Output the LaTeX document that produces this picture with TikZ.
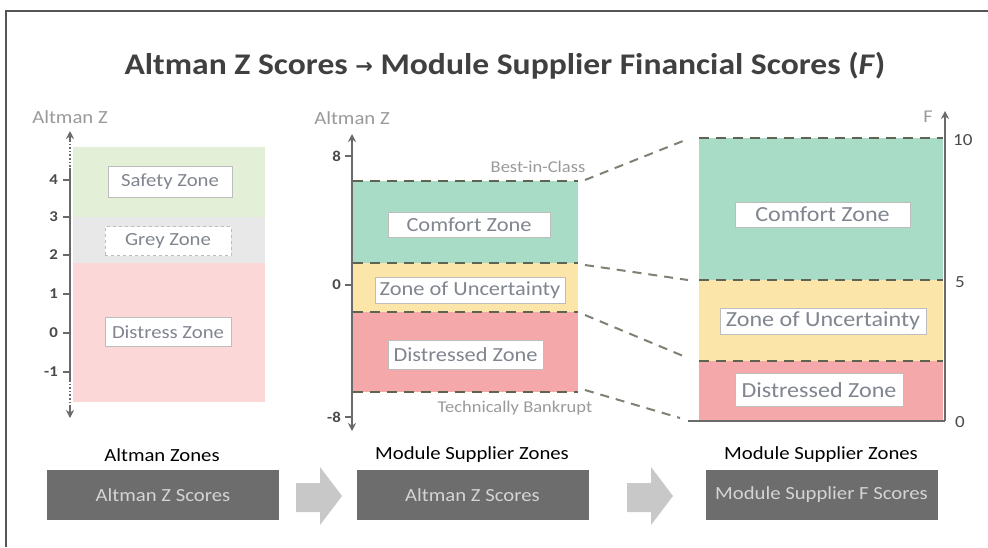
\documentclass[tikz,border=0pt]{standalone}
\usepackage{fontspec}
\setmainfont{Carlito}[FakeStretch=1.12]
\newfontfamily\dejavu{DejaVu Sans}
\usetikzlibrary{arrows.meta}
\definecolor{framec}{HTML}{555555}
\definecolor{titlec}{HTML}{404040}
\definecolor{axisc}{HTML}{6A6A6A}
\definecolor{ticklab}{HTML}{4A4A4A}
\definecolor{lightlab}{HTML}{9A9A9A}
\definecolor{safetyc}{HTML}{E3EFD7}
\definecolor{greyc}{HTML}{E8E8E8}
\definecolor{distressc}{HTML}{FBD7D8}
\definecolor{comfortc}{HTML}{A8DCC6}
\definecolor{uncertc}{HTML}{FBE5A8}
\definecolor{distressedc}{HTML}{F4A8A9}
\definecolor{dashc}{HTML}{5E6352}
\definecolor{ztext}{HTML}{80858F}
\definecolor{zborder}{HTML}{BDBDBD}
\definecolor{darkbox}{HTML}{6D6D6D}
\definecolor{darkboxtext}{HTML}{D4D4D4}
\definecolor{flowarrow}{HTML}{C8C8C8}
\tikzset{
  zbox/.style={draw=zborder, line width=0.8pt, fill=white, text=ztext, inner sep=0pt},
  zoneline/.style={dashc, line width=2.6pt, dash pattern=on 10pt off 7pt},
  linkline/.style={dashc!80, line width=2pt, dash pattern=on 9pt off 7pt},
  axisline/.style={axisc, line width=1.6pt},
  axishead/.style={axisc, line width=1.6pt, -{Stealth[length=8pt,width=8pt]}},
  ticklabel/.style={text=ticklab, font=\fontsize{15}{15}\selectfont\bfseries, anchor=east, inner sep=0pt},
  flabel/.style={text=ticklab, font=\fontsize{17}{17}\selectfont, anchor=west, inner sep=0pt},
  axlabel/.style={text=lightlab, font=\fontsize{18.5}{18.5}\selectfont, inner sep=0pt},
  heading/.style={text=black, font=\fontsize{18.5}{18.5}\selectfont, inner sep=0pt},
  darkstep/.style={fill=darkbox, text=darkboxtext, font=\fontsize{18.5}{18.5}\selectfont, minimum width=232pt, minimum height=50pt, inner sep=0pt},
}
\begin{document}
\begin{tikzpicture}[x=1pt,y=-1pt]
\useasboundingbox (0,0) rectangle (988,547);
\fill[white] (0,0) rectangle (988,547);
\draw[framec, line width=1.2pt] (6,547) -- (6,11) -- (988,11);

% title
\node[text=titlec, font=\fontsize{30}{32}\selectfont\bfseries, inner sep=0pt] (title) at (505,66)
  {Altman Z Scores {\dejavu\fontsize{21}{21}\selectfont\raisebox{1pt}{→}} Module Supplier Financial Scores (\textit{F})};

% ---------- left panel ----------
\fill[safetyc] (73,147) rectangle (265,217);
\fill[greyc] (73,217) rectangle (265,263);
\fill[distressc] (73,263) rectangle (265,402);
\node[axlabel] (lz) at (70,117) {Altman Z};
\draw[axisline] (70,168) -- (70,380);
\draw[axisline, dotted] (70,140) -- (70,168);
\draw[axisline, dotted] (70,380) -- (70,408);
\draw[axishead] (70,142) -- (70,131);
\draw[axishead] (70,407) -- (70,418);
\foreach \v/\yy in {4/180,3/217,2/255,1/294,0/333,-1/372}{
  \draw[axisline, line width=1.2pt] (63,\yy) -- (70,\yy);
  \node[ticklabel] at (58,\yy) {\v};
}
\node[zbox, minimum width=124pt, minimum height=31pt, font=\fontsize{18.5}{18.5}\selectfont] (safety) at (170,182) {Safety Zone};
\node[zbox, minimum width=126pt, minimum height=29pt, font=\fontsize{18.5}{18.5}\selectfont, dashed] (grey) at (168,241) {Grey Zone};
\node[zbox, minimum width=126pt, minimum height=29pt, font=\fontsize{18.5}{18.5}\selectfont] (distress) at (168,332) {Distress Zone};

% ---------- middle panel ----------
\fill[comfortc] (353,181) rectangle (578,263);
\fill[uncertc] (353,263) rectangle (578,312);
\fill[distressedc] (353,312) rectangle (578,392);
\foreach \yy in {181,263,312,392}{\draw[zoneline] (353,\yy) -- (578,\yy);}
\node[axlabel] (mz) at (352,118) {Altman Z};
\draw[axishead] (352,420) -- (352,134);
\draw[axishead] (352,150) -- (352,431);
\foreach \v/\yy in {8/156,0/285,-8/417}{
  \draw[axisline, line width=1.2pt] (345,\yy) -- (352,\yy);
  \node[ticklabel] at (341,\yy) {\v};
}
\node[zbox, minimum width=162pt, minimum height=25pt, font=\fontsize{20}{20}\selectfont] (mcomfort) at (469,224.5) {Comfort Zone};
\node[zbox, minimum width=190pt, minimum height=26pt, font=\fontsize{20}{20}\selectfont] (muncert) at (470,290) {Zone of Uncertainty};
\node[zbox, minimum width=155pt, minimum height=29pt, font=\fontsize{20}{20}\selectfont] (mdistress) at (465.5,354.5) {Distressed Zone};
\node[text=lightlab, font=\fontsize{16.5}{16.5}\selectfont, inner sep=0pt] (bic) at (538,167) {Best-in-Class};
\node[text=lightlab, font=\fontsize{16.5}{16.5}\selectfont, inner sep=0pt] (tb) at (515,408) {Technically Bankrupt};

% ---------- right panel ----------
\fill[comfortc] (699,138) rectangle (943,280);
\fill[uncertc] (699,280) rectangle (943,361);
\fill[distressedc] (699,361) rectangle (943,421);
\foreach \yy in {138,280,361}{\draw[zoneline] (699,\yy) -- (943,\yy);}
\draw[axisline, line width=2.2pt] (688,421) -- (945,421);
\draw[axishead] (945,421) -- (945,111);
\node[text=lightlab, font=\fontsize{18}{18}\selectfont, inner sep=0pt] (fl) at (928,117) {F};
\node[flabel] at (953,140) {10};
\node[flabel] at (955,282) {5};
\node[flabel] at (955,422) {0};
\node[zbox, minimum width=175pt, minimum height=25pt, font=\fontsize{21.5}{21.5}\selectfont] (rcomfort) at (822.5,214.5) {Comfort Zone};
\node[zbox, minimum width=206pt, minimum height=26pt, font=\fontsize{21.5}{21.5}\selectfont] (runcert) at (823,321) {Zone of Uncertainty};
\node[zbox, minimum width=168pt, minimum height=33pt, font=\fontsize{21.5}{21.5}\selectfont] (rdistress) at (819,390) {Distressed Zone};

% connectors
\coordinate (a1) at (585,180); \coordinate (b1) at (688,139);
\coordinate (a2) at (585,265); \coordinate (b2) at (688,280);
\coordinate (a3) at (585,315); \coordinate (b3) at (688,358);
\coordinate (a4) at (585,390); \coordinate (b4) at (680,418);
\draw[linkline] (a1) -- (b1);
\draw[linkline] (a2) -- (b2);
\draw[linkline] (a3) -- (b3);
\draw[linkline] (a4) -- (b4);

% ---------- bottom flow ----------
\node[heading] (h1) at (162,455) {Altman Zones};
\node[heading] (h2) at (472,455) {Module Supplier Zones};
\node[heading] (h3) at (821,455) {Module Supplier Zones};
\node[darkstep] (s1) at (163,495) {Altman Z Scores};
\node[darkstep] (s2) at (472.5,495) {Altman Z Scores};
\node[darkstep] (s3) at (821.5,495) {Module Supplier F Scores};
\fill[flowarrow] (296,483) -- (320,483) -- (320,467) -- (342,496) -- (320,525) -- (320,512) -- (296,512) -- cycle;
\fill[flowarrow] (627,483) -- (651,483) -- (651,467) -- (673,496) -- (651,525) -- (651,512) -- (627,512) -- cycle;
\end{tikzpicture}
\end{document}
